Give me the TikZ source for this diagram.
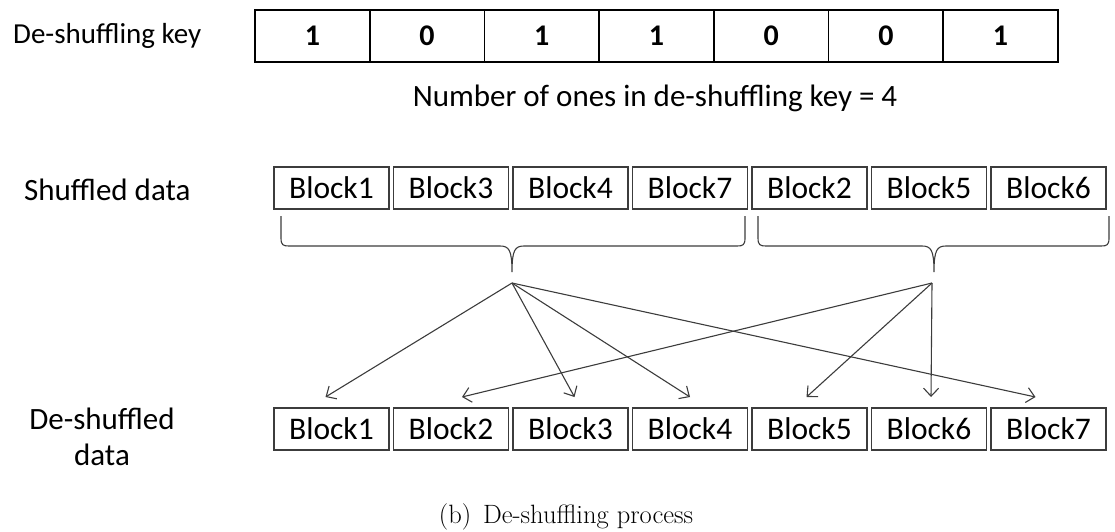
\documentclass[tikz,border=0pt]{standalone}
\usepackage{fontspec}
\newfontfamily\calib{Carlito}
\usetikzlibrary{arrows.meta}
\definecolor{ln}{RGB}{60,60,60}
\tikzset{
  keycell/.style={draw=black,line width=1.6pt,minimum width=114.7pt,minimum height=52pt,inner sep=0pt,outer sep=0pt,font=\calib\bfseries\fontsize{30}{34}\selectfont},
  blk/.style={draw=ln,line width=1.1pt,minimum width=115pt,minimum height=42pt,inner sep=0pt,outer sep=0pt,font=\calib\fontsize{31.5}{34}\selectfont},
  lbl/.style={font=\calib\fontsize{31}{36}\selectfont,inner sep=0pt},
  arr/.style={draw=ln,line width=1.1pt,-{Straight Barb[length=8pt,width=15pt,line width=1.1pt]}},
  brc/.style={draw=ln,line width=1.1pt}
}
\begin{document}
\begin{tikzpicture}[x=1pt,y=-1pt]
\useasboundingbox (0,0) rectangle (1115,531);
% labels
\node[lbl,anchor=west,font=\calib\fontsize{29}{34}\selectfont] (lk) at (13,36) {De-shuffling key};
\node[lbl,anchor=west] (ls) at (24,190) {Shuffled data};
\node[lbl,align=center] (ld) at (102,437) {De-shuffled\\data};
% key
\foreach \v [count=\i] in {1,0,1,1,0,0,1}
  \node[keycell] (k\i) at ({312.35+114.7*(\i-1)},36) {\v};
\node[lbl] (num) at (655,98) {Number of ones in de-shuffling key = 4};
% shuffled
\foreach \v [count=\i] in {1,3,4,7,2,5,6}
  \node[blk] (s\i) at ({331.5+119.5*(\i-1)},188) {Block\v};
% de-shuffled
\foreach \i in {1,...,7}
  \node[blk] (b\i) at ({331.5+119.5*(\i-1)},429) {Block\i};
% braces
\draw[brc] (281,216) -- (281,238) .. controls (281,245) and (283,246) .. (289,246) -- (500,246) .. controls (509,246) and (512,250) .. (512,272)
  .. controls (512,250) and (515,246) .. (524,246) -- (737,246) .. controls (743,246) and (745,245) .. (745,238) -- (745,216);
\draw[brc] (758,216) -- (758,238) .. controls (758,245) and (760,246) .. (766,246) -- (922,246) .. controls (931,246) and (934,250) .. (934,272)
  .. controls (934,250) and (937,246) .. (946,246) -- (1101,246) .. controls (1107,246) and (1109,245) .. (1109,238) -- (1109,216);
% sources
\coordinate (srcL) at (512,283);
\coordinate (srcR) at (932,283);
% arrows
\draw[arr] (srcL) -- ([xshift=-6pt,yshift=11pt]b1.north);
\draw[arr] (srcL) -- ([xshift=4pt,yshift=11pt]b3.north);
\draw[arr] (srcL) -- ([yshift=11pt]b4.north);
\draw[arr] (srcL) -- ([xshift=-13pt,yshift=11pt]b7.north);
\draw[arr] (srcR) -- ([xshift=11pt,yshift=11pt]b2.north);
\draw[arr] (srcR) -- ([xshift=-3pt,yshift=11pt]b5.north);
\draw[arr] (srcR) -- ([xshift=2pt,yshift=11pt]b6.north);
% caption
\node[font=\fontsize{26.5}{30}\selectfont,inner sep=0pt] (cap) at (566,517) {(b)\hspace{0.45em}De-shuffling process};
\end{tikzpicture}
\end{document}
